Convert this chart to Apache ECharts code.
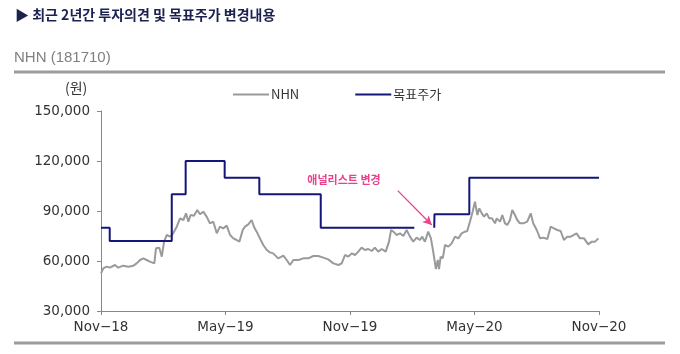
<!DOCTYPE html>
<html>
<head>
<meta charset="utf-8">
<script src="https://cdn.jsdelivr.net/npm/echarts@6/dist/echarts.min.js"></script>
<style>
html,body{margin:0;padding:0;background:#fff;}
#chart{width:680px;height:354px;}
</style>
</head>
<body>
<div id="chart"></div>
<script>
// x values are months elapsed since Nov-18
const xTickLabels = ['Nov\u221218', 'May\u221219', 'Nov\u221219', 'May\u221220', 'Nov\u221220'];
const yTicks = [30000, 60000, 90000, 120000, 150000];

const stockMonths = [0,0.11,0.27,0.43,0.67,0.83,1.07,1.32,1.56,1.72,1.88,2.04,2.20,2.36,2.57,2.65,2.81,2.93,3.04,3.17,3.33,3.48,3.65,3.81,3.97,4.10,4.21,4.32,4.48,4.64,4.77,4.93,5.09,5.25,5.41,5.58,5.73,5.89,6.06,6.22,6.38,6.54,6.67,6.83,6.94,7.10,7.26,7.37,7.50,7.66,7.82,7.99,8.14,8.30,8.54,8.79,8.95,9.11,9.27,9.51,9.75,9.99,10.23,10.47,10.71,10.95,11.20,11.44,11.60,11.76,11.92,12.08,12.24,12.40,12.56,12.72,12.88,13.05,13.20,13.36,13.53,13.72,13.88,13.98,14.09,14.25,14.41,14.57,14.73,14.89,15.05,15.21,15.37,15.48,15.61,15.77,15.90,16.01,16.10,16.14,16.23,16.29,16.37,16.47,16.58,16.74,16.90,17.06,17.22,17.38,17.54,17.65,17.78,17.91,18.02,18.14,18.23,18.35,18.46,18.59,18.71,18.84,18.99,19.07,19.23,19.34,19.47,19.58,19.71,19.82,19.95,20.06,20.19,20.35,20.54,20.71,20.83,21.00,21.16,21.32,21.51,21.67,21.83,21.99,22.15,22.31,22.47,22.64,22.92,23.08,23.28,23.48,23.65,23.81,23.97];
const stockPrices = [52600,55600,56600,56000,57600,56000,57200,56600,57200,58600,60600,61600,60600,59600,58600,67600,68000,62600,71600,75600,74600,76600,80600,85600,84600,88600,83600,87600,87200,90600,88000,89600,86600,82600,83600,76600,80600,79600,81200,75600,73600,72600,71600,78600,80600,82000,84600,80600,77600,73600,69600,66600,65200,64600,61600,63200,60600,57600,60600,60600,61600,61600,63000,63000,62000,61000,58600,57600,58600,63600,62600,64600,63600,65600,68000,66600,67200,66000,68000,65600,67200,65600,71600,78600,77600,75600,76600,75000,78600,74600,71600,74000,72600,74600,71600,77600,73600,65600,64600,55200,60600,55200,62600,61600,69600,68600,70600,74600,73600,76600,77600,78000,83600,89600,95600,87600,91600,88600,86600,88600,85600,85600,82600,85600,83600,87600,82600,81600,84600,90600,87600,84600,82600,82600,83600,88600,82600,78600,73600,74000,73200,80600,79600,78600,78000,72600,74600,74600,76600,73600,73600,70000,71600,71600,73600];

const targetMonths = [0, 0.42, 3.41, 4.08, 5.96, 7.63, 10.59, 14.17, 15.10, 16.06, 16.07, 17.75, 24.0];
const targetPrices = [80000, 72000, 100000, 120000, 110000, 100000, 80000, 80000, null, 80000, 88000, 110000, 110000];

const stockData = stockMonths.map((m, i) => [m, stockPrices[i]]);
const targetData = targetMonths.map((m, i) => [m, targetPrices[i] === null ? '-' : targetPrices[i]]);

const pink = '#e8428c';
const navy = '#14167a';
const grayLine = '#9a9a9a';
const axisFont = '"DejaVu Sans", "Liberation Sans", sans-serif';

const chart = echarts.init(document.getElementById('chart'), null, {renderer: 'canvas'});
chart.setOption({
  animation: false,
  backgroundColor: '#ffffff',
  textStyle: {fontFamily: axisFont},
  grid: {left: 101, right: 81, top: 111, bottom: 43, containLabel: false},
  legend: {
    left: 233, top: 88, padding: 0, itemWidth: 36, itemHeight: 2, itemGap: 56, icon: 'rect',
    textStyle: {fontSize: 13, color: '#333', fontFamily: '"Noto Sans CJK KR", "DejaVu Sans", sans-serif', padding: [0, 0, 0, -3]},
    data: ['NHN', '목표주가']
  },
  graphic: [
    {type: 'text', left: 15, top: 8, style: {text: '▶ 최근 2년간 투자의견 및 목표주가 변경내용', fontSize: 14, fontWeight: 'bold', fill: '#1c2250', fontFamily: '"Noto Sans CJK KR", sans-serif'}},
    {type: 'text', left: 14, top: 50, style: {text: 'NHN (181710)', fontSize: 15, fill: '#808080', fontFamily: '"Liberation Sans", sans-serif'}},
    {type: 'line', shape: {x1: 14, y1: 72, x2: 665, y2: 72}, style: {stroke: '#9c9c9c', lineWidth: 3}},
    {type: 'line', shape: {x1: 14, y1: 343, x2: 665, y2: 343}, style: {stroke: '#9c9c9c', lineWidth: 3}},
    {type: 'text', left: 65, top: 81, style: {text: '(원)', fontSize: 14, fill: '#333', fontFamily: '"Noto Sans CJK KR", sans-serif'}}
  ],
  xAxis: {
    type: 'value', min: 0, max: 24, interval: 6,
    axisLine: {show: true, lineStyle: {color: '#888', width: 1}},
    axisTick: {show: true, length: 4, lineStyle: {color: '#888'}},
    splitLine: {show: false},
    axisLabel: {fontSize: 13.5, color: '#333', margin: 9, fontFamily: axisFont, formatter: v => xTickLabels[Math.round(v / 6)] || ''}
  },
  yAxis: {
    type: 'value', min: 30000, max: 150000, interval: 30000,
    axisLine: {show: true, lineStyle: {color: '#888', width: 1}},
    axisTick: {show: true, length: 4, lineStyle: {color: '#888'}},
    splitLine: {show: false},
    axisLabel: {fontSize: 13.5, color: '#333', margin: 11, fontFamily: axisFont, formatter: v => v.toLocaleString('en-US')}
  },
  series: [
    {
      name: 'NHN', type: 'line', data: stockData, symbol: 'none', showSymbol: false,
      lineStyle: {color: grayLine, width: 2}, itemStyle: {color: grayLine}, z: 2,
      markLine: {
        silent: true, symbol: ['none', 'arrow'], symbolSize: [7, 9],
        lineStyle: {color: pink, type: 'solid', width: 1.3}, label: {show: false},
        data: [[{coord: [14.30, 102200]}, {coord: [15.94, 81600]}]]
      },
      markPoint: {
        silent: true, symbol: 'circle', symbolSize: 1, itemStyle: {color: 'rgba(0,0,0,0)'},
        label: {show: true, position: 'inside', formatter: '애널리스트 변경', color: pink, fontSize: 11, fontWeight: 'bold', fontFamily: '"Noto Sans CJK KR", sans-serif'},
        data: [{coord: [11.71, 108600]}]
      }
    },
    {
      name: '목표주가', type: 'line', data: targetData, step: 'end', symbol: 'none', showSymbol: false,
      connectNulls: false,
      lineStyle: {color: navy, width: 2}, itemStyle: {color: navy}, z: 3
    }
  ]
});
</script>
</body>
</html>
